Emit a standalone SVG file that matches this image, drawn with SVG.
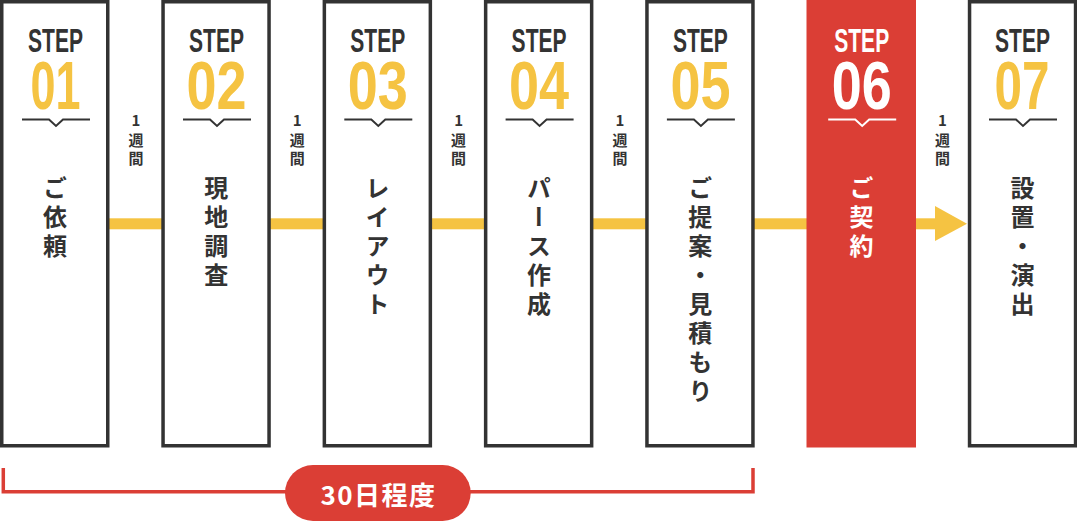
<svg xmlns="http://www.w3.org/2000/svg" width="1077" height="521" viewBox="0 0 1077 521">
<style>
.box{fill:#fff;stroke:#333;stroke-width:3.5}
.red{fill:#db3e35}
.step{font-family:"Liberation Sans Narrow","Liberation Sans",Arial,sans-serif;font-weight:700;font-size:33px;fill:#333;text-anchor:middle}
.num{font-family:"Liberation Sans Narrow","Liberation Sans",Arial,sans-serif;font-weight:700;font-size:69px;fill:#f5c342;text-anchor:middle}
.div{fill:none;stroke:#333;stroke-width:2}
.lbl{font-family:"Noto Sans CJK JP","Noto Sans",sans-serif;font-weight:700;font-size:24px;fill:#333;writing-mode:vertical-rl;letter-spacing:5px}
.wk{font-family:"Noto Sans CJK JP","Noto Sans",sans-serif;font-weight:700;font-size:15px;fill:#333;text-anchor:middle}
.w{fill:#fff}
.wl{stroke:#fff}
.bar{fill:#f5c342}
.brk{fill:none;stroke:#db3e35;stroke-width:3.5}
.pilltxt{font-family:"Noto Sans CJK JP","Noto Sans",sans-serif;font-weight:700;font-size:26px;fill:#fff;text-anchor:middle;letter-spacing:1.5px}
</style>

<g id="connectors">
  <rect class="bar" x="109" y="218.3" width="54" height="11"/>
  <rect class="bar" x="270" y="218.3" width="54" height="11"/>
  <rect class="bar" x="431" y="218.3" width="54" height="11"/>
  <rect class="bar" x="592" y="218.3" width="54" height="11"/>
  <rect class="bar" x="753" y="218.3" width="54" height="11"/>
  <rect class="bar" x="915" y="218.3" width="21" height="11"/>
  <polygon class="bar" points="935,206 967,223.8 935,241"/>
  <g id="weeks">
    <text class="wk"><tspan x="136" y="126">1</tspan><tspan x="136" y="146">週</tspan><tspan x="136" y="164">間</tspan></text>
    <text class="wk"><tspan x="297.3" y="126">1</tspan><tspan x="297.3" y="146">週</tspan><tspan x="297.3" y="164">間</tspan></text>
    <text class="wk"><tspan x="458.6" y="126">1</tspan><tspan x="458.6" y="146">週</tspan><tspan x="458.6" y="164">間</tspan></text>
    <text class="wk"><tspan x="619.9" y="126">1</tspan><tspan x="619.9" y="146">週</tspan><tspan x="619.9" y="164">間</tspan></text>
    <text class="wk"><tspan x="942.5" y="126">1</tspan><tspan x="942.5" y="146">週</tspan><tspan x="942.5" y="164">間</tspan></text>
  </g>
</g>

<g id="step01">
  <rect class="box" x="1.75" y="1.75" width="106" height="444"/>
  <text class="step" x="55.5" y="52" textLength="55" lengthAdjust="spacingAndGlyphs">STEP</text>
  <text class="num" x="55.5" y="109" textLength="50" lengthAdjust="spacingAndGlyphs">01</text>
  <path class="div" d="M22 119.5H49L56 126L63 119.5H90"/>
  <text class="lbl" x="55" y="176">ご依頼</text>
</g>

<g id="step02">
  <rect class="box" x="163.05" y="1.75" width="106" height="444"/>
  <text class="step" x="216.5" y="52" textLength="55" lengthAdjust="spacingAndGlyphs">STEP</text>
  <text class="num" x="216.5" y="109" textLength="60" lengthAdjust="spacingAndGlyphs">02</text>
  <path class="div" d="M183 119.5H210L217 126L224 119.5H251"/>
  <text class="lbl" x="216.3" y="176">現地調査</text>
</g>

<g id="step03">
  <rect class="box" x="324.35" y="1.75" width="106" height="444"/>
  <text class="step" x="377.8" y="52" textLength="55" lengthAdjust="spacingAndGlyphs">STEP</text>
  <text class="num" x="377.8" y="109" textLength="60" lengthAdjust="spacingAndGlyphs">03</text>
  <path class="div" d="M344.3 119.5H371.3L378.3 126L385.3 119.5H412.3"/>
  <text class="lbl" x="377.6" y="176">レイアウト</text>
</g>

<g id="step04">
  <rect class="box" x="485.65" y="1.75" width="106" height="444"/>
  <text class="step" x="539.1" y="52" textLength="55" lengthAdjust="spacingAndGlyphs">STEP</text>
  <text class="num" x="539.1" y="109" textLength="60" lengthAdjust="spacingAndGlyphs">04</text>
  <path class="div" d="M505.6 119.5H532.6L539.6 126L546.6 119.5H573.6"/>
  <text class="lbl" x="538.9" y="176">パース作成</text>
</g>

<g id="step05">
  <rect class="box" x="646.95" y="1.75" width="106" height="444"/>
  <text class="step" x="700.4" y="52" textLength="55" lengthAdjust="spacingAndGlyphs">STEP</text>
  <text class="num" x="700.4" y="109" textLength="60" lengthAdjust="spacingAndGlyphs">05</text>
  <path class="div" d="M666.9 119.5H693.9L700.9 126L707.9 119.5H734.9"/>
  <text class="lbl" x="700.2" y="176">ご提案・見積もり</text>
</g>

<g id="step06">
  <rect class="red" x="806.5" y="0" width="109.5" height="447.5"/>
  <text class="step w" x="861.7" y="52" textLength="55" lengthAdjust="spacingAndGlyphs">STEP</text>
  <text class="num w" x="861.7" y="109" textLength="60" lengthAdjust="spacingAndGlyphs">06</text>
  <path class="div wl" d="M828.2 119.5H855.2L862.2 126L869.2 119.5H896.2"/>
  <text class="lbl w" x="861.5" y="176">ご契約</text>
</g>

<g id="step07">
  <rect class="box" x="969.55" y="1.75" width="106" height="444"/>
  <text class="step" x="1022.5" y="52" textLength="55" lengthAdjust="spacingAndGlyphs">STEP</text>
  <text class="num" x="1022" y="109" textLength="55" lengthAdjust="spacingAndGlyphs">07</text>
  <path class="div" d="M989 119.5H1016L1023 126L1030 119.5H1057"/>
  <text class="lbl" x="1022.5" y="176">設置・演出</text>
</g>

<g id="period">
  <path class="brk" d="M3.3 468V491.7H753V468"/>
  <rect class="red" x="285" y="465" width="185.7" height="56" rx="28" ry="28"/>
  <text class="pilltxt" x="378.5" y="505">30日程度</text>
</g>
</svg>
